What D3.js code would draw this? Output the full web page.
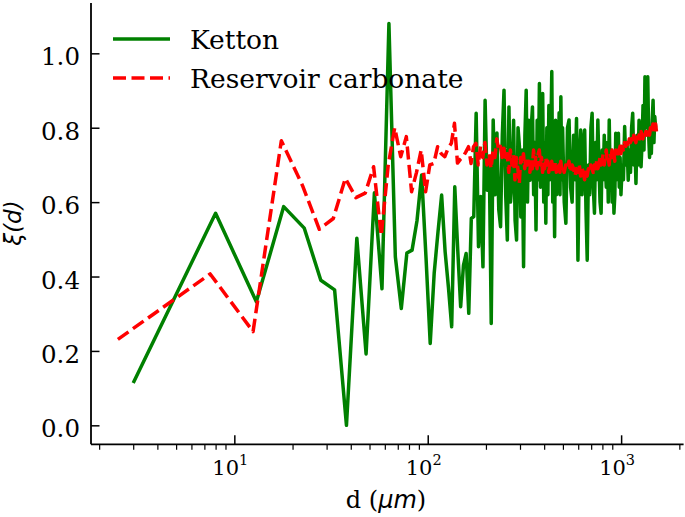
<!DOCTYPE html>
<html><head><meta charset="utf-8">
<script src="https://cdn.jsdelivr.net/npm/d3@7/dist/d3.min.js"></script>
<style>body{margin:0;background:#fff}svg{display:block}</style>
</head><body>
<svg id="c" width="685" height="517"></svg>
<script>
// ---- data ----
const ketD = [
3,8,13,18,23,28,33,38,43,48,
53,58,63,68,73,78,83,88,93,98,
103,108,113,118,123,128,133,138,143,148,
153,158,163,168,173,178,183,188,193,198,
203,208,213,218,223,228,233,238,243,248,
253,258,263,268,273,278,283,288,293,298,
303,308,313,318,323,328,333,338,343,348,
353,358,363,368,373,378,383,388,393,398,
403,408,413,418,423,428,433,438,443,448,
453,458,463,468,473,478,483,488,493,498,
508,518,528,538,548,558,568,578,588,598,
608,618,628,638,648,658,668,678,688,698,
708,718,728,738,748,758,768,778,788,798,
808,818,828,838,848,858,868,878,888,898,
908,918,928,938,948,958,968,978,988,998,
1013,1028,1043,1058,1073,1088,1103,1118,1133,1148,
1163,1178,1193,1208,1223,1238,1253,1268,1283,1298,
1313,1328,1343,1358,1373,1388,1403,1418,1433,1448,
1463,1478,1493,1508];
const ketXi = [
0.114,0.570,0.332,0.588,0.530,0.390,0.364,0.000,0.503,0.192,
0.625,0.367,1.080,0.453,0.314,0.463,0.471,0.550,0.673,0.450,
0.220,0.409,0.520,0.619,0.467,0.370,0.265,0.641,0.470,0.319,
0.430,0.462,0.301,0.556,0.561,0.839,0.480,0.615,0.426,0.874,
0.632,0.720,0.274,0.821,0.620,0.786,0.580,0.534,0.780,0.901,
0.620,0.498,0.856,0.600,0.659,0.820,0.550,0.498,0.800,0.749,
0.560,0.740,0.426,0.780,0.901,0.600,0.820,0.659,0.800,0.856,
0.620,0.760,0.525,0.820,0.660,0.919,0.640,0.780,0.892,0.600,
0.760,0.543,0.800,0.620,0.860,0.660,0.780,0.951,0.600,0.760,
0.507,0.820,0.620,0.803,0.700,0.840,0.620,0.883,0.660,0.800,
0.600,0.543,0.800,0.821,0.640,0.600,0.780,0.660,0.825,0.444,
0.720,0.794,0.620,0.760,0.794,0.580,0.444,0.700,0.620,0.800,
0.839,0.640,0.570,0.760,0.660,0.821,0.700,0.600,0.570,0.740,
0.660,0.780,0.700,0.640,0.760,0.600,0.821,0.660,0.740,0.600,
0.720,0.570,0.620,0.785,0.660,0.740,0.785,0.640,0.720,0.620,
0.700,0.660,0.803,0.700,0.760,0.659,0.740,0.680,0.800,0.839,
0.700,0.760,0.650,0.780,0.700,0.820,0.720,0.695,0.760,0.860,
0.740,0.937,0.800,0.880,0.937,0.780,0.720,0.800,0.731,0.820,
0.874,0.760,0.830,0.800];
const resD = [
2.5,7.5,12.5,17.5,22.5,27.5,32.5,37.5,42.5,47.5,
52.5,57.5,62.5,67.5,72.5,77.5,82.5,87.5,92.5,97.5,
102.5,107.5,112.5,117.5,122.5,127.5,132.5,137.5,142.5,147.5,
152.5,157.5,162.5,167.5,172.5,177.5,182.5,187.5,192.5,197.5,
202.5,207.5,212.5,217.5,222.5,227.5,232.5,237.5,242.5,247.5,
252.5,257.5,262.5,267.5,272.5,277.5,282.5,287.5,292.5,297.5,
302.5,307.5,312.5,317.5,322.5,327.5,332.5,337.5,342.5,347.5,
352.5,357.5,362.5,367.5,372.5,377.5,382.5,387.5,392.5,397.5,
402.5,407.5,412.5,417.5,422.5,427.5,432.5,437.5,442.5,447.5,
452.5,457.5,462.5,467.5,472.5,477.5,482.5,487.5,492.5,497.5,
507.5,517.5,527.5,537.5,547.5,557.5,567.5,577.5,587.5,597.5,
607.5,617.5,627.5,637.5,647.5,657.5,667.5,677.5,687.5,697.5,
707.5,717.5,727.5,737.5,747.5,757.5,767.5,777.5,787.5,797.5,
807.5,817.5,827.5,837.5,847.5,857.5,867.5,877.5,887.5,897.5,
907.5,917.5,927.5,937.5,947.5,957.5,967.5,977.5,987.5,997.5,
1012.5,1027.5,1042.5,1057.5,1072.5,1087.5,1102.5,1117.5,1132.5,1147.5,
1162.5,1177.5,1192.5,1207.5,1222.5,1237.5,1252.5,1267.5,1282.5,1297.5,
1312.5,1327.5,1342.5,1357.5,1372.5,1387.5,1402.5,1417.5,1432.5,1447.5,
1462.5,1477.5,1492.5,1507.5,1522.5];
const resXi = [
0.231,0.407,0.252,0.765,0.645,0.527,0.556,0.664,0.612,0.624,
0.695,0.510,0.700,0.800,0.722,0.776,0.628,0.680,0.740,0.628,
0.700,0.704,0.749,0.730,0.722,0.745,0.758,0.812,0.705,0.715,
0.722,0.735,0.749,0.704,0.749,0.758,0.700,0.750,0.720,0.760,
0.700,0.730,0.690,0.740,0.720,0.770,0.740,0.750,0.720,0.745,
0.710,0.730,0.680,0.740,0.700,0.730,0.660,0.720,0.690,0.650,
0.720,0.700,0.730,0.690,0.720,0.700,0.710,0.680,0.720,0.690,
0.740,0.700,0.720,0.690,0.730,0.740,0.700,0.720,0.680,0.710,
0.690,0.720,0.700,0.710,0.680,0.700,0.690,0.710,0.680,0.700,
0.690,0.710,0.680,0.700,0.690,0.700,0.680,0.710,0.690,0.700,
0.680,0.700,0.690,0.710,0.680,0.700,0.690,0.670,0.690,0.680,
0.700,0.670,0.690,0.680,0.660,0.680,0.670,0.690,0.680,0.700,
0.690,0.680,0.700,0.690,0.710,0.690,0.700,0.720,0.700,0.710,
0.730,0.700,0.720,0.740,0.710,0.720,0.700,0.730,0.720,0.740,
0.720,0.730,0.710,0.740,0.730,0.750,0.730,0.740,0.750,0.730,
0.750,0.740,0.760,0.750,0.760,0.750,0.770,0.760,0.770,0.760,
0.780,0.770,0.760,0.780,0.770,0.780,0.770,0.790,0.780,0.770,
0.790,0.780,0.790,0.780,0.800,0.790,0.780,0.800,0.790,0.800,
0.810,0.790,0.800,0.810,0.790];
const seriesNames = ["Ketton", "Reservoir carbonate"];
const seriesColors = ["#008000", "#ff0000"];
const yTickValues = [0.0, 0.2, 0.4, 0.6, 0.8, 1.0];
const xTickValues = [10, 100, 1000];
const xTickExps = ["1", "2", "3"];
const xMinorTicks = [2,3,4,5,6,7,8,9,20,30,40,50,60,70,80,90,200,300,400,500,600,700,800,900,2000];

// ---- drawing ----
const svg = d3.select("#c");
const FONT = "'DejaVu Serif', serif";
const x = d3.scaleLog().domain([1.815, 2104]).range([91, 683.6]);
const y = d3.scaleLinear().domain([-0.051, 1.135]).range([444.3, 3.1]);

const line = d3.line().x(d => x(d[0])).y(d => y(d[1]));
const ket = ketD.map((d, i) => [d, ketXi[i]]);
const res = resD.map((d, i) => [d, resXi[i]]);

svg.append("path").datum(ket).attr("d", line)
  .attr("fill", "none").attr("stroke", seriesColors[0]).attr("stroke-width", 3.5)
  .attr("stroke-linejoin", "round");
svg.append("path").datum(res).attr("d", line)
  .attr("fill", "none").attr("stroke", seriesColors[1]).attr("stroke-width", 3.5)
  .attr("stroke-linejoin", "round").attr("stroke-dasharray", "13,5.5");

// y axis (ticks inward)
const yAxis = svg.append("g").attr("transform", "translate(91,0)")
  .call(d3.axisLeft(y).tickValues(yTickValues).tickSize(-8.5).tickPadding(11).tickFormat(d3.format(".1f")));
yAxis.select(".domain").attr("stroke-width", 1.8).attr("d", `M0,${y.range()[0]}V${y.range()[1]}`);
yAxis.selectAll(".tick line").attr("stroke-width", 1.5);
yAxis.selectAll(".tick text").attr("font-family", FONT).attr("font-size", 24.5).attr("fill", "#000")
  .attr("dy", null).attr("y", 11.5);

// x axis majors (inward) with 10^k labels
const xAxis = svg.append("g").attr("transform", `translate(0,${y.range()[0]})`)
  .call(d3.axisBottom(x).tickValues(xTickValues).tickSize(-9).tickFormat(""));
xAxis.select(".domain").attr("stroke-width", 1.8).attr("d", `M${x.range()[0]},0H${x.range()[1]}`);
xAxis.selectAll(".tick line").attr("stroke-width", 1.5);
xAxis.selectAll(".tick text").remove();
// minor ticks (outward)
const xMinor = svg.append("g").attr("transform", `translate(0,${y.range()[0]})`)
  .call(d3.axisBottom(x).tickValues(xMinorTicks).tickSize(5.5).tickFormat(""));
xMinor.select(".domain").remove();
xMinor.selectAll(".tick line").attr("stroke-width", 1.2);

xTickValues.forEach((v, i) => {
  const t = svg.append("text").attr("x", x(v) - 4).attr("y", 475)
    .attr("text-anchor", "middle").attr("font-family", FONT).attr("font-size", 21).attr("fill", "#000");
  t.append("tspan").text("10");
  t.append("tspan").attr("dy", -10).attr("font-size", 14.5).text(xTickExps[i]);
});

// axis labels
const xl = svg.append("text").attr("x", 386).attr("y", 508).attr("text-anchor", "middle")
  .attr("font-family", FONT).attr("font-size", 24).attr("fill", "#000");
xl.append("tspan").text("d (");
xl.append("tspan").attr("font-family", "'DejaVu Sans', sans-serif").attr("font-style", "italic").text("μm");
xl.append("tspan").text(")");

svg.append("text").attr("transform", "translate(21,223) rotate(-90)").attr("text-anchor", "middle")
  .attr("font-family", "'DejaVu Sans', sans-serif").attr("font-style", "italic").attr("font-size", 23)
  .attr("fill", "#000").text("ξ(d)");

// legend
const leg = [{y: 39, dash: null}, {y: 78, dash: "13,5.5"}];
leg.forEach((l, i) => {
  svg.append("line").attr("x1", 113).attr("x2", 170).attr("y1", l.y).attr("y2", l.y)
    .attr("stroke", seriesColors[i]).attr("stroke-width", 3.5).attr("stroke-dasharray", l.dash);
  svg.append("text").attr("x", 190).attr("y", l.y + 9.5).attr("font-family", FONT).attr("font-size", 26.5)
    .attr("fill", "#000").text(seriesNames[i]);
});
</script>
</body></html>
